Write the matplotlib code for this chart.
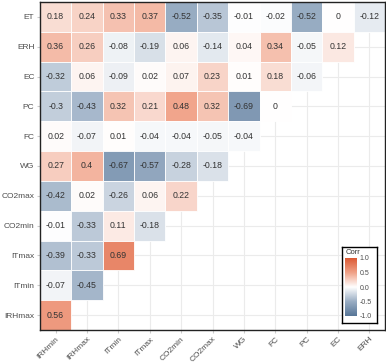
import numpy as np
import matplotlib
matplotlib.use("Agg")
import matplotlib.pyplot as plt
from matplotlib.colors import LinearSegmentedColormap

plt.rcParams["font.family"] = ["Liberation Sans", "DejaVu Sans"]

# Data
row_labels = ["ET", "ERH", "EC", "PC", "FC", "WG", "CO2max", "CO2min", "ITmax", "ITmin", "IRHmax"]
col_labels = ["IRHmin", "IRHmax", "ITmin", "ITmax", "CO2min", "CO2max", "WG", "FC", "PC", "EC", "ERH"]

r_et = [0.18, 0.24, 0.33, 0.37, -0.52, -0.35, -0.01, -0.02, -0.52, 0, -0.12]
r_erh = [0.36, 0.26, -0.08, -0.19, 0.06, -0.14, 0.04, 0.34, -0.05, 0.12]
r_ec = [-0.32, 0.06, -0.09, 0.02, 0.07, 0.23, 0.01, 0.18, -0.06]
r_pc = [-0.3, -0.43, 0.32, 0.21, 0.48, 0.32, -0.69, 0]
r_fc = [0.02, -0.07, 0.01, -0.04, -0.04, -0.05, -0.04]
r_wg = [0.27, 0.4, -0.67, -0.57, -0.28, -0.18]
r_co2max = [-0.42, 0.02, -0.26, 0.06, 0.22]
r_co2min = [-0.01, -0.33, 0.11, -0.18]
r_itmax = [-0.39, -0.33, 0.69]
r_itmin = [-0.07, -0.45]
r_irhmax = [0.56]

rows = [r_et, r_erh, r_ec, r_pc, r_fc, r_wg, r_co2max, r_co2min, r_itmax, r_itmin, r_irhmax]

cmap = LinearSegmentedColormap.from_list("corr", ["#587698", "#9aaec4", "#ffffff", "#f0a288", "#dc5a35"])

fig = plt.figure(figsize=(3.86, 3.64), dpi=100)
ax = fig.add_axes([40 / 386, 34 / 364, 345 / 386, 328 / 364])

n = len(col_labels)
for i, vals in enumerate(rows):
    y = n - 1 - i
    for j, v in enumerate(vals):
        ax.add_patch(plt.Rectangle((j - 0.5, y - 0.5), 1, 1, facecolor=cmap((v + 1) / 2),
                                   edgecolor="white", linewidth=0.6, zorder=2))
        ax.text(j, y, f"{v:g}", ha="center", va="center", fontsize=6.3, color="#333333", zorder=3)

ax.set_xlim(-0.5, n - 0.5)
ax.set_ylim(-0.5, n - 0.5)
ax.set_xticks(range(n))
ax.set_xticklabels(col_labels, rotation=45, ha="right", rotation_mode="anchor")
ax.set_yticks(range(n))
ax.set_yticklabels(row_labels[::-1])
ax.tick_params(labelsize=6, labelcolor="#4d4d4d", length=2, color="#cccccc", pad=2)
ax.grid(color="#ebebeb", linewidth=0.8, zorder=0)
ax.set_axisbelow(True)
for s in ax.spines.values():
    s.set_color("#222222")
    s.set_linewidth(1.0)

# Legend colourbar
lax = fig.add_axes([342 / 386, 41 / 364, 35 / 386, 76 / 364])
lax.set_xticks([])
lax.set_yticks([])
for s in lax.spines.values():
    s.set_linewidth(1.0)
lax.text(0.1, 0.93, "Corr", transform=lax.transAxes, fontsize=5.5, color="#333333", va="center")
cax = fig.add_axes([345 / 386, 48 / 364, 12 / 386, 58 / 364])
grad = np.linspace(-1, 1, 200).reshape(-1, 1)
cax.imshow(grad, aspect="auto", cmap=cmap, origin="lower", extent=[0, 1, -1, 1], vmin=-1, vmax=1)
cax.set_xticks([])
cax.yaxis.tick_right()
cax.set_yticks([-1, -0.5, 0, 0.5, 1])
cax.set_yticklabels(["-1.0", "-0.5", "0.0", "0.5", "1.0"])
cax.tick_params(labelsize=5, labelcolor="#4d4d4d", length=0, pad=2)
for s in cax.spines.values():
    s.set_visible(False)

fig.savefig("out.png", dpi=100)
